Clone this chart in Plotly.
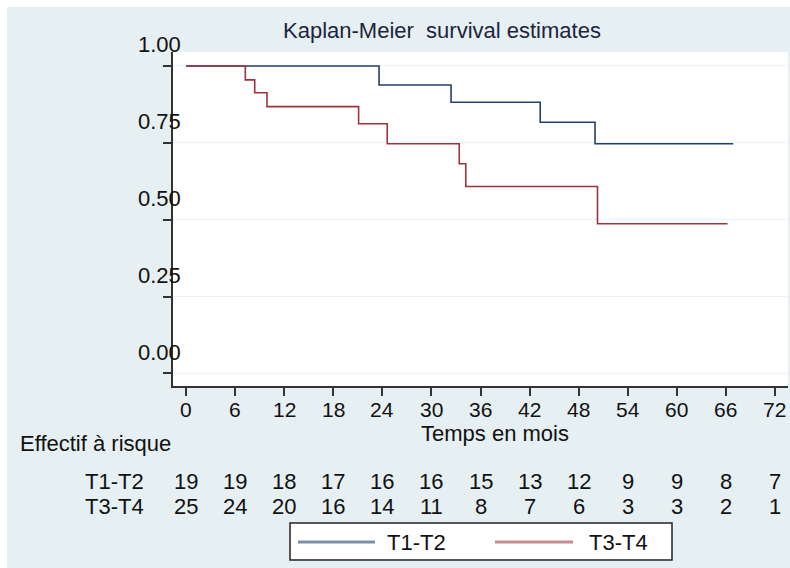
import plotly.graph_objects as go

# ---- data ----
t12_times = [0, 23.6, 32.4, 43.3, 50.0, 66.9]
t12_surv = [1.0, 0.938, 0.882, 0.817, 0.747, 0.747]
t34_times = [0, 7.25, 8.4, 9.9, 21.1, 24.6, 33.4, 34.2, 50.3, 66.2]
t34_surv = [1.0, 0.955, 0.913, 0.868, 0.812, 0.747, 0.682, 0.608, 0.487, 0.487]

x_ticks = [0, 6, 12, 18, 24, 30, 36, 42, 48, 54, 60, 66, 72]
y_ticks = [0.0, 0.25, 0.5, 0.75, 1.0]
y_tick_labels = ["0.00", "0.25", "0.50", "0.75", "1.00"]
risk_t12 = [19, 19, 18, 17, 16, 16, 15, 13, 12, 9, 9, 8, 7]
risk_t34 = [25, 24, 20, 16, 14, 11, 8, 7, 6, 3, 3, 2, 1]
group_names = ["T1-T2", "T3-T4"]

BLUE = "#263f6c"
RED = "#9c343c"
BG = "#e6eff1"
FONT = "Arial, Liberation Sans, sans-serif"
TXT = "#111111"
FS = 22

W, H = 790, 568
ML, MR, MT, MB = 173, 2, 52, 182
PW = W - ML - MR
PH = H - MT - MB


def px2paper_x(px):
    return (px - ML) / PW


def px2paper_y(py):
    return (H - MB - py) / PH


def txt(**kw):
    d = dict(showarrow=False, borderpad=0, font=dict(family=FONT, size=FS, color=TXT))
    d.update(kw)
    return d


fig = go.Figure()
fig.add_trace(go.Scatter(x=t12_times, y=t12_surv, mode="lines", line_shape="hv",
                         line=dict(color=BLUE, width=1.6), name=group_names[0],
                         showlegend=False))
fig.add_trace(go.Scatter(x=t34_times, y=t34_surv, mode="lines", line_shape="hv",
                         line=dict(color=RED, width=1.6), name=group_names[1],
                         showlegend=False))

annotations = []
# y tick labels (offset upward as in the reference)
for v, lab in zip(y_ticks, y_tick_labels):
    annotations.append(txt(x=0, xref="paper", y=v, yref="y", text=lab,
                           xanchor="right", yanchor="middle", xshift=9, yshift=21))
# x tick labels
for v in x_ticks:
    annotations.append(txt(x=v, xref="x", y=px2paper_y(410), yref="paper",
                           text=str(v), xanchor="center", yanchor="middle",
                           font=dict(family=FONT, size=21, color=TXT)))
# risk table numbers
for row, ypx in ((risk_t12, 481), (risk_t34, 506)):
    for v, n in zip(x_ticks, row):
        annotations.append(txt(x=v, xref="x", y=px2paper_y(ypx), yref="paper",
                               text=str(n), xanchor="center", yanchor="middle"))
# risk table row labels
for name, ypx in zip(group_names, (481, 506)):
    annotations.append(txt(x=px2paper_x(145), xref="paper", y=px2paper_y(ypx),
                           yref="paper", text=name, xanchor="right", yanchor="middle"))
annotations.append(txt(x=px2paper_x(19), xref="paper", y=px2paper_y(443),
                       yref="paper", text="Effectif à risque",
                       xanchor="left", yanchor="middle"))
# axis title
annotations.append(txt(x=px2paper_x(495), xref="paper", y=px2paper_y(433),
                       yref="paper", text="Temps en mois",
                       xanchor="center", yanchor="middle"))
# title
annotations.append(txt(x=px2paper_x(442), xref="paper", y=px2paper_y(30),
                       yref="paper", text="Kaplan-Meier  survival estimates",
                       xanchor="center", yanchor="middle",
                       font=dict(family=FONT, size=FS, color="#1c2540")))
# legend texts
annotations.append(txt(x=px2paper_x(386), xref="paper", y=px2paper_y(542),
                       yref="paper", text=group_names[0],
                       xanchor="left", yanchor="middle"))
annotations.append(txt(x=px2paper_x(588), xref="paper", y=px2paper_y(542),
                       yref="paper", text=group_names[1],
                       xanchor="left", yanchor="middle"))

shapes = [
    # white strips at top/left of the page
    dict(type="rect", xref="paper", yref="paper", x0=px2paper_x(0), x1=px2paper_x(7),
         y0=px2paper_y(H), y1=px2paper_y(0), fillcolor="white", line_width=0,
         layer="below"),
    dict(type="rect", xref="paper", yref="paper", x0=px2paper_x(0), x1=px2paper_x(W),
         y0=px2paper_y(7), y1=px2paper_y(0), fillcolor="white", line_width=0,
         layer="below"),
    # legend box
    dict(type="rect", xref="paper", yref="paper", x0=px2paper_x(290), x1=px2paper_x(672),
         y0=px2paper_y(560), y1=px2paper_y(523), fillcolor="white",
         line=dict(color="#222222", width=1.5)),
    dict(type="line", xref="paper", yref="paper", x0=px2paper_x(298), x1=px2paper_x(375),
         y0=px2paper_y(542), y1=px2paper_y(542), line=dict(color="#7b8fa8", width=3)),
    dict(type="line", xref="paper", yref="paper", x0=px2paper_x(495), x1=px2paper_x(573),
         y0=px2paper_y(542), y1=px2paper_y(542), line=dict(color="#c48e90", width=3)),
]

fig.update_layout(
    width=W, height=H,
    margin=dict(l=ML, r=MR, t=MT, b=MB, pad=0),
    paper_bgcolor=BG, plot_bgcolor="white",
    showlegend=False,
    annotations=annotations,
    shapes=shapes,
    font=dict(family=FONT, size=FS, color=TXT),
)
fig.update_xaxes(range=[-1.59, 73.59], tickvals=x_ticks, showticklabels=False,
                 ticks="outside", ticklen=8, tickwidth=1.5, tickcolor="#333333",
                 showline=True, linecolor="#333333", linewidth=1.5,
                 showgrid=False, zeroline=False)
fig.update_yaxes(range=[-0.0407, 1.0455], tickvals=y_ticks, showticklabels=False,
                 ticks="outside", ticklen=8, tickwidth=1.5, tickcolor="#333333",
                 showline=True, linecolor="#333333", linewidth=1.5,
                 showgrid=True, gridcolor="#eaf3f5", gridwidth=1.2, zeroline=False)

fig.write_html("out.html",
               config={"displayModeBar": False},
               post_script="document.body.style.margin='0';"
                           "document.body.style.overflow='hidden';")
